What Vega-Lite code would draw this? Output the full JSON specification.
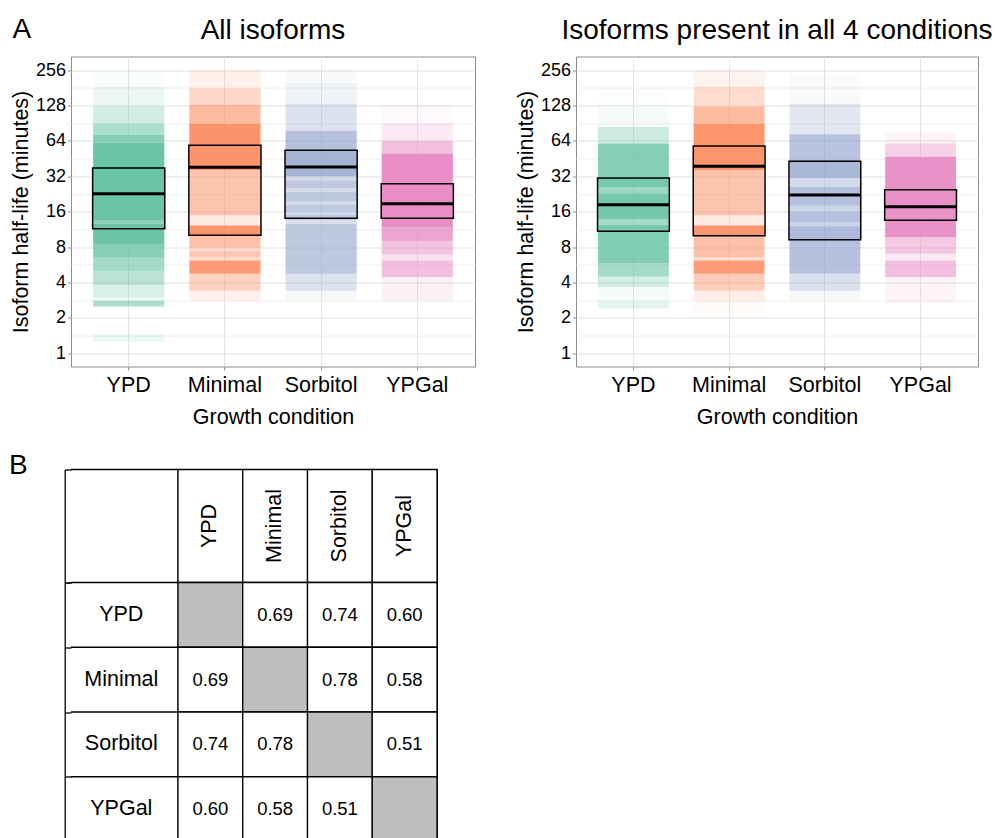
{
  "$schema": "https://vega.github.io/schema/vega-lite/v6.json",
  "background": "white",
  "padding": {"left": 9, "top": 15.5, "right": 0, "bottom": 0},
  "columns": 1,
  "spacing": 23,
  "config": {
    "font": "Liberation Sans",
    "view": {"stroke": null},
    "title": {"fontSize": 28, "fontWeight": "normal", "color": "black", "font": "Liberation Sans", "baseline": "alphabetic"},
    "axis": {"labelFont": "Liberation Sans", "titleFont": "Liberation Sans", "labelColor": "black", "titleColor": "black", "titleFontWeight": "normal"}
  },
  "datasets": {
    "dens": [
      {"p":"A","c":"YPD","lo":1.25,"hi":1.45,"d":0.12},
      {"p":"A","c":"YPD","lo":2.5,"hi":2.8,"d":0.55},
      {"p":"A","c":"YPD","lo":2.8,"hi":3.0,"d":0.12},
      {"p":"A","c":"YPD","lo":3.0,"hi":3.8,"d":0.25},
      {"p":"A","c":"YPD","lo":3.8,"hi":5.0,"d":0.45},
      {"p":"A","c":"YPD","lo":5.0,"hi":6.5,"d":0.6},
      {"p":"A","c":"YPD","lo":6.5,"hi":8.5,"d":0.78},
      {"p":"A","c":"YPD","lo":8.5,"hi":12.7,"d":0.97},
      {"p":"A","c":"YPD","lo":12.7,"hi":13.4,"d":0.75},
      {"p":"A","c":"YPD","lo":13.4,"hi":62,"d":0.97},
      {"p":"A","c":"YPD","lo":62,"hi":72,"d":0.8},
      {"p":"A","c":"YPD","lo":72,"hi":90,"d":0.55},
      {"p":"A","c":"YPD","lo":90,"hi":125,"d":0.3},
      {"p":"A","c":"YPD","lo":125,"hi":185,"d":0.13},
      {"p":"A","c":"YPD","lo":185,"hi":260,"d":0.04},

      {"p":"A","c":"Minimal","lo":2.8,"hi":3.4,"d":0.12},
      {"p":"A","c":"Minimal","lo":3.4,"hi":4.74,"d":0.4},
      {"p":"A","c":"Minimal","lo":4.74,"hi":6.15,"d":0.88},
      {"p":"A","c":"Minimal","lo":6.15,"hi":6.6,"d":0.3},
      {"p":"A","c":"Minimal","lo":6.6,"hi":7.4,"d":0.5},
      {"p":"A","c":"Minimal","lo":7.4,"hi":7.9,"d":0.3},
      {"p":"A","c":"Minimal","lo":7.9,"hi":10.0,"d":0.55},
      {"p":"A","c":"Minimal","lo":10.0,"hi":12.2,"d":0.92},
      {"p":"A","c":"Minimal","lo":12.2,"hi":14.9,"d":0.18},
      {"p":"A","c":"Minimal","lo":14.9,"hi":36,"d":0.52},
      {"p":"A","c":"Minimal","lo":36,"hi":90,"d":0.95},
      {"p":"A","c":"Minimal","lo":90,"hi":130,"d":0.6},
      {"p":"A","c":"Minimal","lo":130,"hi":180,"d":0.35},
      {"p":"A","c":"Minimal","lo":180,"hi":260,"d":0.13},

      {"p":"A","c":"Sorbitol","lo":2.8,"hi":3.4,"d":0.08},
      {"p":"A","c":"Sorbitol","lo":3.4,"hi":4.74,"d":0.3},
      {"p":"A","c":"Sorbitol","lo":4.74,"hi":12.6,"d":0.58},
      {"p":"A","c":"Sorbitol","lo":12.6,"hi":13.6,"d":0.35},
      {"p":"A","c":"Sorbitol","lo":13.6,"hi":15,"d":0.58},
      {"p":"A","c":"Sorbitol","lo":15,"hi":16,"d":0.4},
      {"p":"A","c":"Sorbitol","lo":16,"hi":18.2,"d":0.58},
      {"p":"A","c":"Sorbitol","lo":18.2,"hi":19.5,"d":0.38},
      {"p":"A","c":"Sorbitol","lo":19.5,"hi":23.5,"d":0.58},
      {"p":"A","c":"Sorbitol","lo":23.5,"hi":25.5,"d":0.38},
      {"p":"A","c":"Sorbitol","lo":25.5,"hi":29.5,"d":0.58},
      {"p":"A","c":"Sorbitol","lo":29.5,"hi":32,"d":0.38},
      {"p":"A","c":"Sorbitol","lo":32,"hi":53,"d":0.78},
      {"p":"A","c":"Sorbitol","lo":53,"hi":78,"d":0.65},
      {"p":"A","c":"Sorbitol","lo":78,"hi":133,"d":0.3},
      {"p":"A","c":"Sorbitol","lo":133,"hi":200,"d":0.13},
      {"p":"A","c":"Sorbitol","lo":200,"hi":260,"d":0.05},

      {"p":"A","c":"YPGal","lo":2.8,"hi":4.44,"d":0.13},
      {"p":"A","c":"YPGal","lo":4.44,"hi":6.15,"d":0.55},
      {"p":"A","c":"YPGal","lo":6.15,"hi":6.9,"d":0.25},
      {"p":"A","c":"YPGal","lo":6.9,"hi":9,"d":0.5},
      {"p":"A","c":"YPGal","lo":9,"hi":11.8,"d":0.78},
      {"p":"A","c":"YPGal","lo":11.8,"hi":50,"d":0.97},
      {"p":"A","c":"YPGal","lo":50,"hi":64,"d":0.55},
      {"p":"A","c":"YPGal","lo":64,"hi":90,"d":0.18},
      {"p":"A","c":"YPGal","lo":90,"hi":130,"d":0.05},

      {"p":"B","c":"YPD","lo":2.4,"hi":2.75,"d":0.18},
      {"p":"B","c":"YPD","lo":2.75,"hi":3.65,"d":0.07},
      {"p":"B","c":"YPD","lo":3.65,"hi":4.5,"d":0.3},
      {"p":"B","c":"YPD","lo":4.5,"hi":5.8,"d":0.6},
      {"p":"B","c":"YPD","lo":5.8,"hi":10.9,"d":0.82},
      {"p":"B","c":"YPD","lo":10.9,"hi":12.4,"d":0.88},
      {"p":"B","c":"YPD","lo":12.4,"hi":13.8,"d":0.6},
      {"p":"B","c":"YPD","lo":13.8,"hi":23,"d":0.9},
      {"p":"B","c":"YPD","lo":23,"hi":26,"d":0.65},
      {"p":"B","c":"YPD","lo":26,"hi":32,"d":0.88},
      {"p":"B","c":"YPD","lo":32,"hi":61,"d":0.8},
      {"p":"B","c":"YPD","lo":61,"hi":84,"d":0.32},
      {"p":"B","c":"YPD","lo":84,"hi":125,"d":0.06},
      {"p":"B","c":"YPD","lo":125,"hi":180,"d":0.02},

      {"p":"B","c":"Minimal","lo":2.2,"hi":2.8,"d":0.05},
      {"p":"B","c":"Minimal","lo":2.8,"hi":3.42,"d":0.15},
      {"p":"B","c":"Minimal","lo":3.42,"hi":4.74,"d":0.45},
      {"p":"B","c":"Minimal","lo":4.74,"hi":6.15,"d":0.88},
      {"p":"B","c":"Minimal","lo":6.15,"hi":6.6,"d":0.3},
      {"p":"B","c":"Minimal","lo":6.6,"hi":10,"d":0.55},
      {"p":"B","c":"Minimal","lo":10,"hi":12.2,"d":0.92},
      {"p":"B","c":"Minimal","lo":12.2,"hi":14.9,"d":0.18},
      {"p":"B","c":"Minimal","lo":14.9,"hi":36,"d":0.52},
      {"p":"B","c":"Minimal","lo":36,"hi":90,"d":0.93},
      {"p":"B","c":"Minimal","lo":90,"hi":125,"d":0.6},
      {"p":"B","c":"Minimal","lo":125,"hi":185,"d":0.3},
      {"p":"B","c":"Minimal","lo":185,"hi":256,"d":0.1},

      {"p":"B","c":"Sorbitol","lo":2.8,"hi":3.4,"d":0.08},
      {"p":"B","c":"Sorbitol","lo":3.4,"hi":4.74,"d":0.32},
      {"p":"B","c":"Sorbitol","lo":4.74,"hi":9.2,"d":0.65},
      {"p":"B","c":"Sorbitol","lo":9.2,"hi":12,"d":0.72},
      {"p":"B","c":"Sorbitol","lo":12,"hi":13,"d":0.45},
      {"p":"B","c":"Sorbitol","lo":13,"hi":16,"d":0.65},
      {"p":"B","c":"Sorbitol","lo":16,"hi":18,"d":0.45},
      {"p":"B","c":"Sorbitol","lo":18,"hi":26,"d":0.66},
      {"p":"B","c":"Sorbitol","lo":26,"hi":31,"d":0.4},
      {"p":"B","c":"Sorbitol","lo":31,"hi":44,"d":0.75},
      {"p":"B","c":"Sorbitol","lo":44,"hi":73,"d":0.62},
      {"p":"B","c":"Sorbitol","lo":73,"hi":133,"d":0.25},
      {"p":"B","c":"Sorbitol","lo":133,"hi":240,"d":0.05},

      {"p":"B","c":"YPGal","lo":2.7,"hi":4.44,"d":0.1},
      {"p":"B","c":"YPGal","lo":4.44,"hi":6.15,"d":0.55},
      {"p":"B","c":"YPGal","lo":6.15,"hi":7.0,"d":0.2},
      {"p":"B","c":"YPGal","lo":7.0,"hi":9.7,"d":0.48},
      {"p":"B","c":"YPGal","lo":9.7,"hi":47,"d":0.93},
      {"p":"B","c":"YPGal","lo":47,"hi":61,"d":0.4},
      {"p":"B","c":"YPGal","lo":61,"hi":75,"d":0.1}
    ],
    "box": [
      {"p":"A","c":"YPD","q1":11.45,"med":22.75,"q3":37.7},
      {"p":"A","c":"Minimal","q1":10.1,"med":38.2,"q3":58.8},
      {"p":"A","c":"Sorbitol","q1":14.1,"med":38.4,"q3":53.3},
      {"p":"A","c":"YPGal","q1":14.1,"med":18.7,"q3":27.7},
      {"p":"B","c":"YPD","q1":10.9,"med":18.3,"q3":31},
      {"p":"B","c":"Minimal","q1":9.98,"med":38.9,"q3":58},
      {"p":"B","c":"Sorbitol","q1":9.23,"med":22.2,"q3":42.9},
      {"p":"B","c":"YPGal","q1":13.5,"med":17.6,"q3":24.6}
    ],
    "conds": [{"c":"YPD"},{"c":"Minimal"},{"c":"Sorbitol"},{"c":"YPGal"}],
    "corr": [
      {"r":"YPD","c":"YPD","v":null},
      {"r":"YPD","c":"Minimal","v":0.69},
      {"r":"YPD","c":"Sorbitol","v":0.74},
      {"r":"YPD","c":"YPGal","v":0.60},
      {"r":"Minimal","c":"YPD","v":0.69},
      {"r":"Minimal","c":"Minimal","v":null},
      {"r":"Minimal","c":"Sorbitol","v":0.78},
      {"r":"Minimal","c":"YPGal","v":0.58},
      {"r":"Sorbitol","c":"YPD","v":0.74},
      {"r":"Sorbitol","c":"Minimal","v":0.78},
      {"r":"Sorbitol","c":"Sorbitol","v":null},
      {"r":"Sorbitol","c":"YPGal","v":0.51},
      {"r":"YPGal","c":"YPD","v":0.60},
      {"r":"YPGal","c":"Minimal","v":0.58},
      {"r":"YPGal","c":"Sorbitol","v":0.51},
      {"r":"YPGal","c":"YPGal","v":null}
    ]
  },
  "concat": [
    {
      "title": {"text": "A", "anchor": "start", "frame": "bounds", "fontSize": 28, "offset": 0, "dy": 28, "dx": 2},
      "spacing": 39,
      "hconcat": [
        {
          "width": 404, "height": 310,
          "title": {"text": "All isoforms", "offset": 12},
          "view": {"stroke": "#8c8c8c", "strokeWidth": 1},
          "layer": [
            {
              "data": {"name": "dens"},
              "transform": [{"filter": "datum.p == 'A'"}],
              "mark": {"type": "bar", "width": {"band": 0.74}},
              "encoding": {
                "x": {"field": "c", "type": "nominal", "title": "Growth condition",
                  "scale": {"domain": ["YPD","Minimal","Sorbitol","YPGal"], "paddingInner": 0, "paddingOuter": 0.1},
                  "axis": {"domain": false, "labelAngle": 0, "labelFontSize": 21.5, "titleFontSize": 21.5, "tickSize": 3.5, "tickColor": "#8c8c8c", "labelPadding": 4, "titlePadding": 11, "grid": true, "gridColor": "#e4e4e4", "gridWidth": 1}},
                "y": {"field": "lo", "type": "quantitative", "title": "Isoform half-life (minutes)",
                  "scale": {"type": "log", "base": 2, "domain": [0.77, 335], "nice": false},
                  "axis": {"domain": false, "values": [1,1.4142,2,2.8284,4,5.6569,8,11.314,16,22.627,32,45.255,64,90.51,128,181.02,256],
                    "labelExpr": "datum.value == round(datum.value) ? datum.label : ''", "format": "d",
                    "labelFontSize": 18, "titleFontSize": 21.5, "labelPadding": 2,
                    "tickSize": {"condition": {"test": "datum.value == round(datum.value)", "value": 3.5}, "value": 0},
                    "tickColor": "#8c8c8c",
                    "gridColor": {"condition": {"test": "datum.value == round(datum.value)", "value": "#e0e0e0"}, "value": "#eeeeee"},
                    "gridWidth": 1, "titlePadding": 2.5}},
                "y2": {"field": "hi"},
                "color": {"field": "c", "type": "nominal", "legend": null,
                  "scale": {"domain": ["YPD","Minimal","Sorbitol","YPGal"], "range": ["#66C2A5","#FC8D62","#8DA0CB","#E78AC3"]}},
                "opacity": {"field": "d", "type": "quantitative", "scale": null}
              }
            },
            {
              "data": {"name": "box"},
              "transform": [{"filter": "datum.p == 'A'"}],
              "mark": {"type": "bar", "width": {"band": 0.75}, "fill": "transparent", "stroke": "black", "strokeWidth": 1.5},
              "encoding": {
                "x": {"field": "c", "type": "nominal"},
                "y": {"field": "q1", "type": "quantitative"},
                "y2": {"field": "q3"}
              }
            },
            {
              "data": {"name": "box"},
              "transform": [{"filter": "datum.p == 'A'"}],
              "mark": {"type": "tick", "thickness": 3, "size": 72, "color": "black", "opacity": 1},
              "encoding": {
                "x": {"field": "c", "type": "nominal"},
                "y": {"field": "med", "type": "quantitative"}
              }
            }
          ]
        },
        {
          "width": 402, "height": 310,
          "title": {"text": "Isoforms present in all 4 conditions", "offset": 12},
          "view": {"stroke": "#8c8c8c", "strokeWidth": 1},
          "layer": [
            {
              "data": {"name": "dens"},
              "transform": [{"filter": "datum.p == 'B'"}],
              "mark": {"type": "bar", "width": {"band": 0.74}},
              "encoding": {
                "x": {"field": "c", "type": "nominal", "title": "Growth condition",
                  "scale": {"domain": ["YPD","Minimal","Sorbitol","YPGal"], "paddingInner": 0, "paddingOuter": 0.1},
                  "axis": {"domain": false, "labelAngle": 0, "labelFontSize": 21.5, "titleFontSize": 21.5, "tickSize": 3.5, "tickColor": "#8c8c8c", "labelPadding": 4, "titlePadding": 11, "grid": true, "gridColor": "#e4e4e4", "gridWidth": 1}},
                "y": {"field": "lo", "type": "quantitative", "title": "Isoform half-life (minutes)",
                  "scale": {"type": "log", "base": 2, "domain": [0.77, 335], "nice": false},
                  "axis": {"domain": false, "values": [1,1.4142,2,2.8284,4,5.6569,8,11.314,16,22.627,32,45.255,64,90.51,128,181.02,256],
                    "labelExpr": "datum.value == round(datum.value) ? datum.label : ''", "format": "d",
                    "labelFontSize": 18, "titleFontSize": 21.5, "labelPadding": 2,
                    "tickSize": {"condition": {"test": "datum.value == round(datum.value)", "value": 3.5}, "value": 0},
                    "tickColor": "#8c8c8c",
                    "gridColor": {"condition": {"test": "datum.value == round(datum.value)", "value": "#e0e0e0"}, "value": "#eeeeee"},
                    "gridWidth": 1, "titlePadding": 2.5}},
                "y2": {"field": "hi"},
                "color": {"field": "c", "type": "nominal", "legend": null,
                  "scale": {"domain": ["YPD","Minimal","Sorbitol","YPGal"], "range": ["#66C2A5","#FC8D62","#8DA0CB","#E78AC3"]}},
                "opacity": {"field": "d", "type": "quantitative", "scale": null}
              }
            },
            {
              "data": {"name": "box"},
              "transform": [{"filter": "datum.p == 'B'"}],
              "mark": {"type": "bar", "width": {"band": 0.75}, "fill": "transparent", "stroke": "black", "strokeWidth": 1.5},
              "encoding": {
                "x": {"field": "c", "type": "nominal"},
                "y": {"field": "q1", "type": "quantitative"},
                "y2": {"field": "q3"}
              }
            },
            {
              "data": {"name": "box"},
              "transform": [{"filter": "datum.p == 'B'"}],
              "mark": {"type": "tick", "thickness": 3, "size": 72, "color": "black", "opacity": 1},
              "encoding": {
                "x": {"field": "c", "type": "nominal"},
                "y": {"field": "med", "type": "quantitative"}
              }
            }
          ]
        }
      ]
    },
    {
      "columns": 2,
      "spacing": 0,
      "bounds": "flush",
      "concat": [
        {
          "width": 107, "height": 113,
          "title": {"text": "B", "anchor": "start", "frame": "bounds", "fontSize": 28, "offset": -11, "dx": -55},
          "view": {"stroke": null},
          "data": {"values": [{"h": "corner"}]},
          "mark": {"type": "rule", "color": "black", "strokeWidth": 1.3},
          "encoding": {
            "y": {"field": "h", "type": "nominal", "title": null, "bandPosition": 0,
              "scale": {"paddingInner": 0, "paddingOuter": 0},
              "axis": {"labels": false, "domain": true, "domainColor": "black", "domainWidth": 1.3, "offset": 6.3, "tickBand": "extent", "tickSize": -6.3, "tickColor": "black", "tickWidth": 1.3, "grid": false}}
          }
        },
        {
          "width": 259, "height": 113,
          "view": {"stroke": "black", "strokeWidth": 1.3},
          "data": {"name": "conds"},
          "layer": [
            {
              "mark": {"type": "rect", "fill": "white", "stroke": "black", "strokeWidth": 1.3},
              "encoding": {"x": {"field": "c", "type": "nominal", "axis": null, "scale": {"domain": ["YPD","Minimal","Sorbitol","YPGal"], "paddingInner": 0, "paddingOuter": 0}}}
            },
            {
              "mark": {"type": "text", "angle": 270, "fontSize": 21.5, "color": "black", "font": "Liberation Sans"},
              "encoding": {"x": {"field": "c", "type": "nominal", "axis": null}, "text": {"field": "c"}}
            }
          ]
        },
        {
          "width": 107, "height": 259,
          "view": {"stroke": null},
          "data": {"name": "conds"},
          "layer": [
            {
              "mark": {"type": "rule", "color": "black", "strokeWidth": 1.3},
              "encoding": {"y": {"field": "c", "type": "nominal", "title": null, "bandPosition": 0,
                "scale": {"domain": ["YPD","Minimal","Sorbitol","YPGal"], "paddingInner": 0, "paddingOuter": 0},
                "axis": {"labels": false, "domain": true, "domainColor": "black", "domainWidth": 1.3, "offset": 6.3, "tickBand": "extent", "tickSize": -6.3, "tickColor": "black", "tickWidth": 1.3, "grid": false}}}
            },
            {
              "mark": {"type": "text", "fontSize": 21.5, "color": "black", "font": "Liberation Sans", "dx": -3.2},
              "encoding": {"y": {"field": "c", "type": "nominal"}, "text": {"field": "c"}}
            }
          ]
        },
        {
          "width": 259, "height": 259,
          "view": {"stroke": "black", "strokeWidth": 1.3},
          "data": {"name": "corr"},
          "layer": [
            {
              "mark": {"type": "rect", "stroke": "black", "strokeWidth": 1.3},
              "encoding": {
                "x": {"field": "c", "type": "nominal", "axis": null, "scale": {"domain": ["YPD","Minimal","Sorbitol","YPGal"], "paddingInner": 0, "paddingOuter": 0}},
                "y": {"field": "r", "type": "nominal", "axis": null, "scale": {"domain": ["YPD","Minimal","Sorbitol","YPGal"], "paddingInner": 0, "paddingOuter": 0}},
                "fill": {"condition": {"test": "datum.v == null", "value": "#bebebe"}, "value": "white"}
              }
            },
            {
              "transform": [{"filter": "datum.v != null"}],
              "mark": {"type": "text", "fontSize": 18.5, "color": "black", "font": "Liberation Sans"},
              "encoding": {
                "x": {"field": "c", "type": "nominal", "axis": null},
                "y": {"field": "r", "type": "nominal", "axis": null},
                "text": {"field": "v", "type": "quantitative", "format": ".2f"}
              }
            }
          ]
        }
      ]
    }
  ]
}
